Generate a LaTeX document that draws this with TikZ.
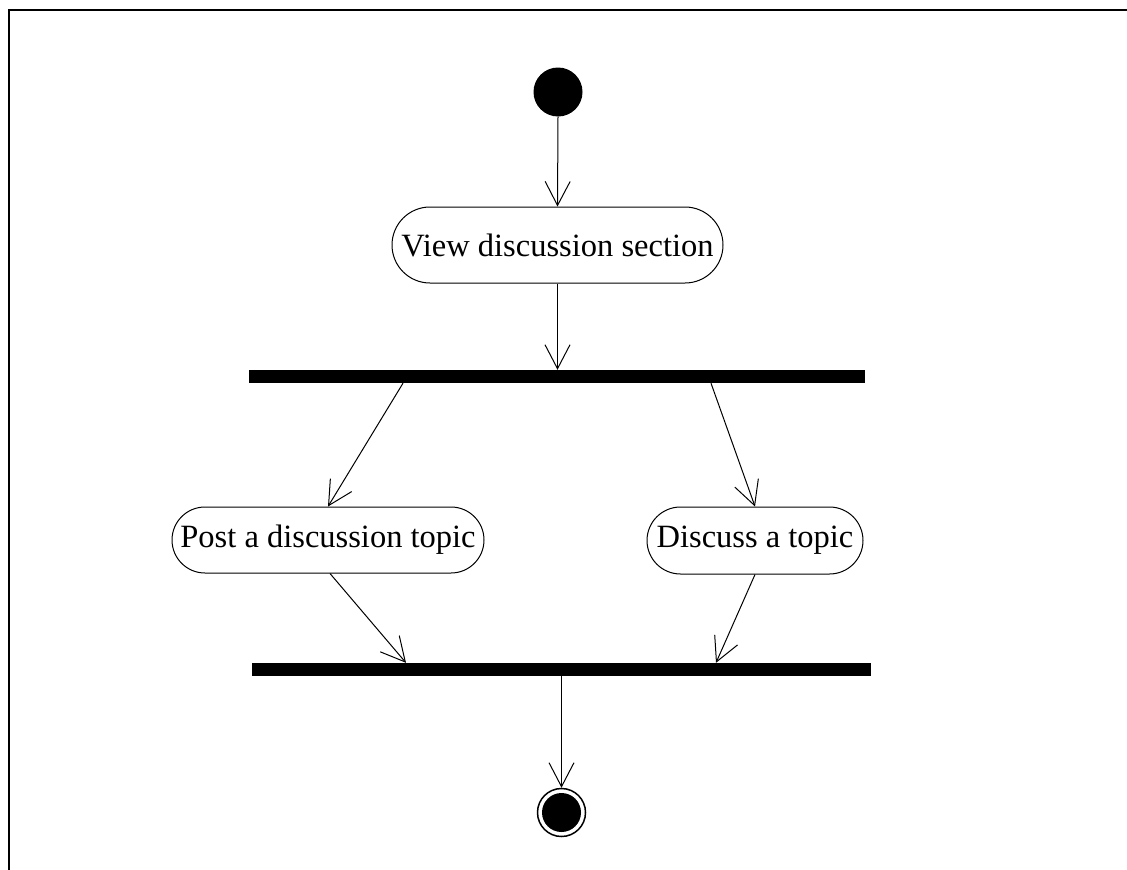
\documentclass[tikz,border=0pt]{standalone}
\usepackage{fontspec}
\setmainfont{Liberation Serif}
\usetikzlibrary{arrows.meta,shapes.misc}

\tikzset{
  flow/.style={line width=1pt, -{Straight Barb[length=24pt,width=25pt,line width=1pt]}},
  activity/.style={rounded rectangle, draw, line width=1pt, inner sep=0pt,
    font=\fontsize{32.5}{38}\selectfont},
  syncbar/.style={rectangle, fill=black, inner sep=0pt, minimum height=13pt},
  initial/.style={circle, fill=black, inner sep=0pt, minimum size=49pt},
  final/.style={circle, draw, line width=1.5pt, fill=white, inner sep=0pt, minimum size=48pt,
    path picture={\fill[black] (path picture bounding box.center) circle (19.5pt);}}
}

\begin{document}
\begin{tikzpicture}[x=1pt,y=-1pt]
  \useasboundingbox (0,0) rectangle (1127,870);
  % outer frame (runs off the right and bottom edges)
  \draw[line width=2pt] (8.5,1000) -- (8.5,10) -- (1200,10);

  \node[initial] (start) at (558,92) {};
  \node[activity, minimum width=331pt, minimum height=76pt] (view) at (557.5,245) {View discussion section};
  \node[syncbar, minimum width=616pt] (fork) at (557,376.5) {};
  \node[activity, minimum width=312pt, minimum height=66pt] (post) at (328,540) {Post a discussion topic};
  \node[activity, minimum width=216pt, minimum height=67pt] (discuss) at (755,540.5) {Discuss a topic};
  \node[syncbar, minimum width=619pt] (join) at (561.5,669.5) {};
  \node[final] (end) at (561.5,812.5) {};

  \draw[flow] (start.south) -- (view.north);
  \draw[flow] (view.south) -- (view.south |- fork.north);
  \draw[flow] ([xshift=-154pt]fork.south) -- (post.north);
  \draw[flow] ([xshift=154pt]fork.south) -- (discuss.north);
  \draw[flow] ([xshift=2pt]post.south) -- ([xshift=-155.5pt]join.north);
  \draw[flow] (discuss.south) -- ([xshift=154.5pt]join.north);
  \draw[flow] (join.south -| end.north) -- (end.north);
\end{tikzpicture}
\end{document}
